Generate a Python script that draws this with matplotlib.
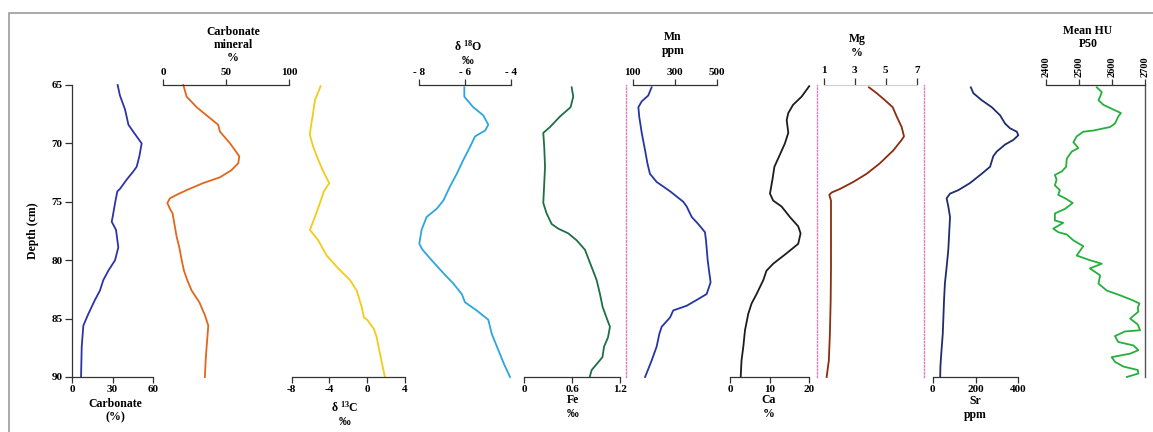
import matplotlib
matplotlib.use("Agg")
import matplotlib.pyplot as plt
from matplotlib.patches import Rectangle

plt.rcParams['font.family'] = ['Liberation Serif', 'DejaVu Serif']
plt.rcParams['font.weight'] = 'bold'
plt.rcParams['axes.unicode_minus'] = False

# depth profiles, cm
carb_depth = [65.0, 65.9, 67.1, 68.4, 69.0, 70.0, 71.1, 72.0, 72.4, 73.1, 73.9, 74.1, 75.1, 76.3, 76.7,
              77.4, 78.9, 80.0, 80.9, 81.7, 82.6, 83.4, 84.6, 85.6, 87.4, 90.0]
carb_val = [33.8, 35.5, 39.3, 41.8, 45.4, 51.6, 49.9, 47.9, 45.4, 40.5, 35.5, 33.6, 31.9, 30.1, 29.4,
            32.6, 34.3, 31.9, 26.9, 23.2, 20.7, 17.0, 12.1, 8.4, 7.2, 6.7]

mineral_depth = [65.0, 66.0, 66.9, 67.7, 68.4, 69.0, 70.0, 71.1, 71.7, 72.3, 72.9, 73.4, 74.0, 74.4, 74.7,
                 75.1, 75.6, 76.0, 76.7, 78.0, 78.9, 80.0, 80.9, 81.7, 82.6, 83.6, 84.7, 85.6, 86.3,
                 87.4, 88.6, 90.0]
mineral_val = [15.9, 18.5, 26.5, 35.5, 43.5, 45.0, 53.0, 60.3, 59.5, 54.0, 45.0, 31.6, 18.5, 10.6, 5.3,
               3.2, 5.3, 7.4, 8.5, 10.6, 12.7, 14.6, 16.4, 19.0, 22.5, 28.6, 33.0, 35.7, 35.2,
               34.4, 33.6, 33.0]

d13c_depth = [65.1, 66.3, 67.7, 68.7, 69.3, 70.3, 71.4, 72.4, 73.4, 74.1, 75.1, 76.3, 77.4, 78.3, 79.6,
              80.7, 81.7, 82.6, 84.0, 84.9, 85.1, 85.9, 86.6, 88.0, 89.1, 90.0]
d13c_val = [-4.94, -5.54, -5.79, -6.0, -6.07, -5.72, -5.19, -4.66, -4.02, -4.59, -5.01, -5.54, -6.07,
            -5.19, -4.3, -3.07, -1.83, -1.12, -0.59, -0.35, 0.0, 0.71, 1.0, 1.35, 1.63, 1.87]

d18o_depth = [65.2, 66.0, 66.9, 67.6, 68.4, 68.9, 69.4, 70.3, 71.4, 72.6, 73.7, 74.9, 75.6, 76.3, 77.4,
              78.6, 79.1, 80.0, 81.1, 82.0, 82.9, 83.6, 84.3, 85.1, 86.3, 87.7, 88.9, 90.0]
d18o_val = [-6.03, -6.03, -5.64, -5.2, -4.98, -5.12, -5.56, -5.78, -6.07, -6.36, -6.66, -6.95, -7.24,
            -7.68, -7.9, -8.0, -7.86, -7.46, -6.95, -6.51, -6.14, -6.0, -5.49, -4.98, -4.83, -4.54,
            -4.29, -4.03]

fe_depth = [65.2, 66.0, 66.9, 67.7, 68.6, 69.1, 70.3, 72.0, 73.7, 75.1, 76.0, 76.9, 77.3, 77.7, 78.3,
            79.1, 80.6, 81.7, 82.9, 84.0, 84.9, 85.7, 86.6, 87.4, 88.3, 88.9, 89.4, 90.0]
fe_val = [0.594, 0.614, 0.58, 0.447, 0.322, 0.238, 0.25, 0.26, 0.248, 0.238, 0.28, 0.343, 0.426, 0.551,
          0.657, 0.76, 0.845, 0.907, 0.949, 0.982, 1.03, 1.074, 1.05, 1.0, 0.98, 0.907, 0.845, 0.82]

mn_depth = [65.2, 65.9, 66.4, 66.9, 67.7, 69.1, 70.6, 71.7, 72.6, 73.3, 74.1, 75.0, 75.4, 76.3, 76.9,
            77.6, 78.3, 80.0, 81.1, 81.9, 82.9, 83.4, 83.9, 84.3, 84.9, 85.7, 86.3, 87.4, 88.6, 90.0]
mn_val = [190, 174, 143, 127, 131, 143, 159, 170, 182, 214, 278, 341, 357, 381, 412,
          444, 449, 457, 465, 471, 452, 405, 357, 293, 278, 238, 227, 214, 190, 159]

ca_depth = [65.1, 66.0, 66.7, 67.4, 68.0, 69.1, 70.0, 71.1, 72.0, 73.1, 74.3, 74.9, 75.4, 76.3, 77.1,
            77.7, 78.6, 79.4, 80.3, 80.9, 81.7, 82.9, 83.7, 84.6, 86.0, 87.4, 88.6, 90.0]
ca_val = [19.98, 18.05, 15.9, 14.7, 14.3, 14.7, 13.85, 12.4, 11.2, 10.7, 10.08, 10.9, 13.0, 15.1, 17.2,
          17.8, 17.2, 14.3, 10.9, 9.2, 8.4, 6.7, 5.45, 4.6, 3.78, 3.36, 2.9, 2.7]

mg_depth = [65.2, 65.7, 66.3, 66.9, 67.7, 68.6, 69.4, 69.7, 70.6, 71.7, 72.6, 73.3, 73.9, 74.2, 74.4,
            74.9, 80.6, 83.4, 86.3, 88.6, 90.0]
mg_val = [3.92, 4.42, 4.95, 5.45, 5.71, 6.03, 6.18, 6.03, 5.49, 4.63, 3.77, 2.91, 2.05, 1.52, 1.36,
          1.47, 1.47, 1.45, 1.4, 1.33, 1.19]

sr_depth = [65.2, 65.7, 66.3, 66.9, 67.6, 68.3, 68.7, 69.0, 69.3, 69.7, 70.1, 70.7, 71.1, 72.0, 72.6,
            73.4, 74.0, 74.3, 74.7, 75.4, 76.3, 77.7, 79.1, 80.6, 82.0, 83.4, 84.9, 86.3, 88.0, 89.1, 90.0]
sr_val = [178, 190, 229, 276, 315, 338, 361, 393, 400, 377, 338, 299, 283, 268, 229,
          174, 120, 81, 65, 73, 81, 77, 73, 65, 57, 53, 50, 47, 40, 36, 35]

hu_depth = [65.2, 65.6, 66.0, 66.3, 66.7, 67.1, 67.4, 67.7, 68.3, 68.6, 68.9, 69.0, 69.4, 69.9, 70.4,
            70.7, 71.3, 72.0, 72.4, 72.7, 73.1, 73.6, 74.0, 74.4, 74.7, 75.1, 75.6, 76.0, 76.6, 76.8,
            77.3, 77.6, 77.8, 78.3, 78.8, 79.6, 80.0, 80.3, 80.7, 81.3, 82.0, 82.6, 83.0, 83.4, 83.7,
            84.1, 84.4, 85.0, 85.5, 86.0, 86.1, 86.5, 87.0, 87.3, 87.7, 88.0, 88.3, 88.7, 89.1, 89.4,
            89.7, 90.0]
hu_val = [2554, 2569, 2564, 2559, 2574, 2604, 2627, 2619, 2609, 2594, 2543, 2513, 2493, 2483, 2498,
          2478, 2463, 2461, 2448, 2427, 2432, 2427, 2442, 2437, 2458, 2481, 2458, 2427, 2427, 2452,
          2422, 2437, 2463, 2483, 2513, 2493, 2533, 2569, 2533, 2564, 2559, 2584, 2624, 2660, 2683,
          2678, 2680, 2655, 2678, 2685, 2639, 2609, 2619, 2665, 2680, 2655, 2599, 2609, 2634, 2678,
          2680, 2645]

W, H = 1153, 432
Y_TOP, Y_BOT = 85, 377
SPINE = '#333333'
SEP = '#d97fbf'

fig = plt.figure(figsize=(W / 100, H / 100), dpi=100)
fig.patch.set_facecolor('white')
fig.add_artist(Rectangle((9 / W, -0.1), 1.2, 1.1 - 13 / H, transform=fig.transFigure,
                         fill=False, ec='#9c9c9c', lw=1.2))


def panel(x0, x1, xlim, ticks, side, labels=None):
    ax = fig.add_axes([x0 / W, 1 - Y_BOT / H, (x1 - x0) / W, (Y_BOT - Y_TOP) / H])
    ax.patch.set_alpha(0)
    ax.set_xlim(*xlim)
    ax.set_ylim(90, 65)
    for s in ax.spines.values():
        s.set_visible(False)
    ax.spines[side].set_visible(True)
    ax.spines[side].set_color(SPINE)
    ax.spines[side].set_linewidth(0.9)
    ax.set_yticks([])
    ax.set_xticks(ticks)
    if labels is not None:
        ax.set_xticklabels(labels)
    ax.xaxis.set_ticks_position(side)
    ax.tick_params(axis='x', direction='out', length=4, width=0.9, pad=2,
                   labelsize=8, color=SPINE)
    return ax


def separator(ax, px):
    # dotted divider left of a panel
    sp = ax.spines['left']
    sp.set_visible(True)
    sp.set_position(('outward', px * 0.72))
    sp.set_linestyle((0, (1, 1.5)))
    sp.set_color(SEP)
    sp.set_linewidth(1.0)


def label(x, y, s, size=8.5):
    fig.text(x / W, 1 - y / H, s, ha='center', va='center', fontsize=size,
             fontweight='bold', linespacing=1.15)


def trace(ax, vals, depth, color):
    ax.plot(vals, depth, color=color, lw=1.3, clip_on=False)


# carbonate, with the depth axis
ax = panel(72, 153, (0, 60), [0, 30, 60], 'bottom')
ax.spines['left'].set_visible(True)
ax.spines['left'].set_color(SPINE)
ax.spines['left'].set_linewidth(0.9)
ax.set_yticks([65, 70, 75, 80, 85, 90])
ax.tick_params(axis='y', direction='out', length=5, width=0.9, pad=2, labelsize=8, color=SPINE)
ax.set_ylabel('Depth (cm)', fontsize=8.5, fontweight='bold', labelpad=9)
trace(ax, carb_val, carb_depth, '#2f33a6')
label(115, 411, 'Carbonate\n(%)')

ax = panel(163.3, 289.3, (0, 100), [0, 50, 100], 'top')
trace(ax, mineral_val, mineral_depth, '#e2661c')
label(233, 45, 'Carbonate\nmineral\n%')

ax = panel(291.7, 405, (-8, 4), [-8, -4, 0, 4], 'bottom')
trace(ax, d13c_val, d13c_depth, '#f3cb18')
label(345, 414, 'δ $\\mathregular{^{13}}$C\n‰')

ax = panel(419.3, 510.7, (-8, -4), [-8, -6, -4], 'top', ['- 8', '- 6', '- 4'])
trace(ax, d18o_val, d18o_depth, '#2ba6df')
label(468, 53, 'δ $\\mathregular{^{18}}$O\n‰')

ax = panel(524.3, 620, (0, 1.2), [0, 0.6, 1.2], 'bottom', ['0', '0.6', '1.2'])
trace(ax, fe_val, fe_depth, '#1f6e45')
label(573, 407, 'Fe\n‰')

ax = panel(632.7, 716.7, (100, 500), [100, 300, 500], 'top')
separator(ax, 7)
trace(ax, mn_val, mn_depth, '#2536a2')
label(673, 44, 'Mn\nppm')

ax = panel(730, 809.3, (0, 20), [0, 10, 20], 'bottom')
trace(ax, ca_val, ca_depth, '#1c1c1c')
label(769, 407, 'Ca\n%')

ax = panel(823.7, 916.7, (1, 7), [1, 3, 5, 7], 'top')
ax.spines['top'].set_color('#cfcfcf')
ax.spines['top'].set_linewidth(0.8)
ax.tick_params(axis='x', length=5)
separator(ax, 7)
trace(ax, mg_val, mg_depth, '#8c2b0e')
label(857, 46, 'Mg\n%')

ax = panel(932.7, 1018.3, (0, 400), [0, 200, 400], 'bottom')
separator(ax, 8.4)
trace(ax, sr_val, sr_depth, '#1f2d6e')
label(975, 408, 'Sr\nppm')

ax = panel(1046, 1145, (2400, 2700), [2400, 2500, 2600, 2700], 'top')
ax.spines['right'].set_visible(True)
ax.spines['right'].set_color('#555555')
ax.spines['right'].set_linewidth(1.0)
ax.tick_params(axis='x', labelrotation=90, labelsize=7.5)
trace(ax, hu_val, hu_depth, '#25b03d')
label(1088, 37.5, 'Mean HU\nP50')

fig.savefig('out.png', dpi=100)
